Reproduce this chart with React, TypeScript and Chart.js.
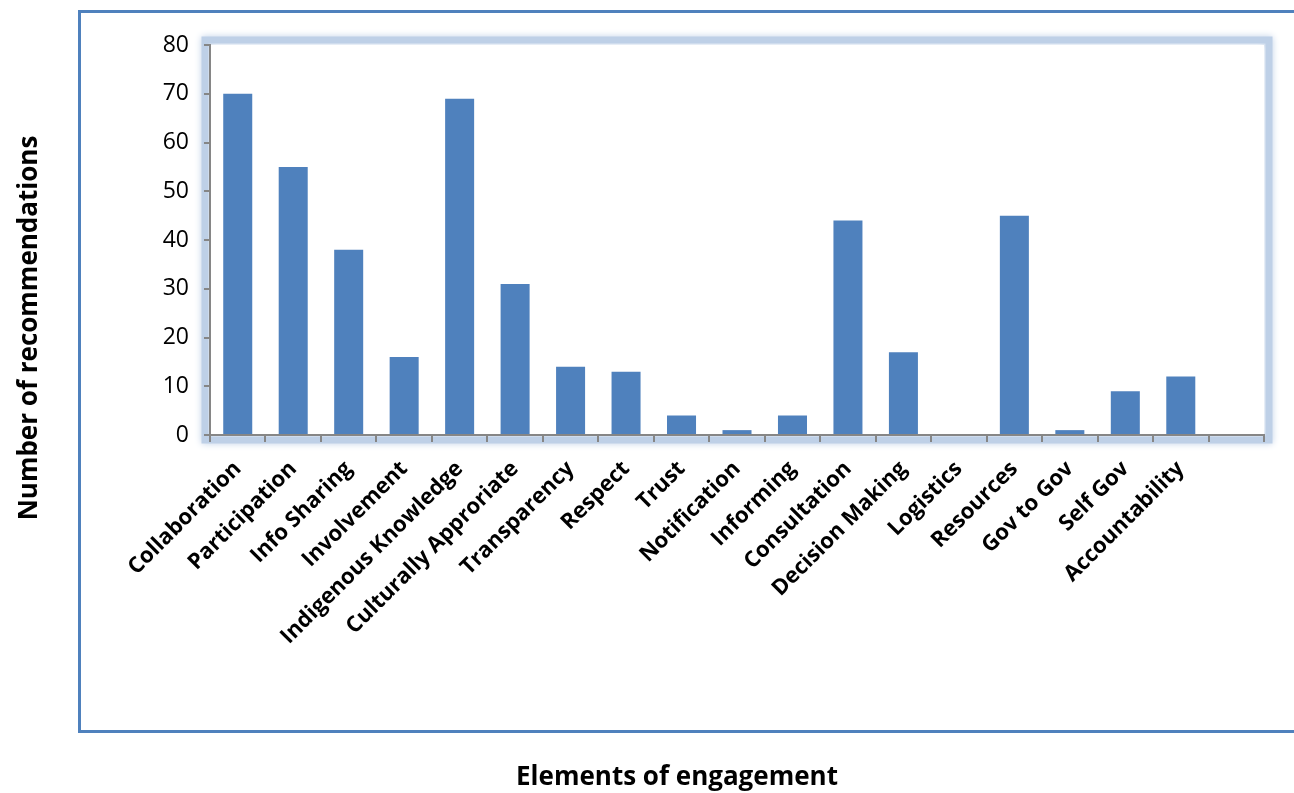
import React, { useEffect, useRef } from "react";
import { Chart, registerables } from "chart.js";

Chart.register(...registerables);

const categories = [
  "Collaboration",
  "Participation",
  "Info Sharing",
  "Involvement",
  "Indigenous Knowledge",
  "Culturally Approriate",
  "Transparency",
  "Respect",
  "Trust",
  "Notification",
  "Informing",
  "Consultation",
  "Decision Making",
  "Logistics",
  "Resources",
  "Gov to Gov",
  "Self Gov",
  "Accountability",
  "",
];

const recommendations = [70, 55, 38, 16, 69, 31, 14, 13, 4, 1, 4, 44, 17, 0, 45, 1, 9, 12, null];

const yTitle = "Number of recommendations";
const xTitle = "Elements of engagement";

const FONT = "'Open Sans', 'Noto Sans', sans-serif";

const framePlugin = {
  id: "frame",
  beforeDraw(chart: any) {
    const { ctx, chartArea } = chart;
    ctx.save();
    ctx.fillStyle = "#ffffff";
    ctx.fillRect(0, 0, chart.width, chart.height);
    // outer box
    ctx.strokeStyle = "#4F81BD";
    ctx.lineWidth = 3;
    ctx.strokeRect(79.5, 11.5, 1400, 720);
    // glow around plot area
    ctx.strokeStyle = "rgba(190,208,231,1)";
    ctx.shadowColor = "rgba(190,208,231,1)";
    ctx.shadowBlur = 7;
    ctx.lineWidth = 7;
    const g = 5;
    ctx.strokeRect(
      chartArea.left - g,
      chartArea.top - g,
      chartArea.right - chartArea.left + 2 * g,
      chartArea.bottom - chartArea.top + 2 * g
    );
    ctx.shadowBlur = 0;
    ctx.fillStyle = "#ffffff";
    ctx.fillRect(
      chartArea.left,
      chartArea.top,
      chartArea.right - chartArea.left,
      chartArea.bottom - chartArea.top
    );
    ctx.restore();
  },
  afterDraw(chart: any) {
    const { ctx } = chart;
    ctx.save();
    ctx.fillStyle = "#000";
    ctx.font = `bold 26px ${FONT}`;
    ctx.textAlign = "center";
    ctx.textBaseline = "middle";
    ctx.fillText(xTitle, 677, 778);
    ctx.translate(30, 328);
    ctx.rotate(-Math.PI / 2);
    ctx.fillText(yTitle, 0, 0);
    ctx.restore();
  },
};

export default function App() {
  const ref = useRef<HTMLCanvasElement | null>(null);
  useEffect(() => {
    if (!ref.current) return;
    const chart = new Chart(ref.current, {
      type: "bar",
      data: {
        labels: categories,
        datasets: [
          {
            data: recommendations as any,
            backgroundColor: "#4F81BD",
            borderWidth: 0,
            barPercentage: 0.523,
            categoryPercentage: 1,
          },
        ],
      },
      options: {
        responsive: false,
        animation: false,
        layout: { padding: { left: 0, top: 45, right: 30, bottom: 0 } },
        plugins: {
          legend: { display: false },
          tooltip: { enabled: false },
        },
        scales: {
          x: {
            afterFit(scale: any) {
              scale.height = 358;
            },
            grid: {
              drawOnChartArea: false,
              offset: true,
              tickLength: 7,
              color: "#868686",
              lineWidth: 2,
            },
            border: { color: "#868686", width: 2 },
            ticks: {
              autoSkip: false,
              maxRotation: 45,
              minRotation: 45,
              color: "#000",
              padding: 14,
              labelOffset: 0,
              font: { family: FONT, size: 22, weight: "bold" },
            },
          },
          y: {
            min: 0,
            max: 80,
            afterFit(scale: any) {
              scale.width = 210;
            },
            grid: {
              drawOnChartArea: false,
              tickLength: 6,
              color: "#868686",
              lineWidth: 2,
            },
            border: { color: "#868686", width: 2 },
            ticks: {
              stepSize: 10,
              color: "#000",
              padding: 15,
              font: { family: FONT, size: 23 },
            },
          },
        },
      },
      plugins: [framePlugin],
    });
    return () => chart.destroy();
  }, []);
  return (
    <div style={{ position: "absolute", left: 0, top: 0, width: 1294, height: 793 }}>
      <canvas ref={ref} width={1294} height={793} />
    </div>
  );
}
